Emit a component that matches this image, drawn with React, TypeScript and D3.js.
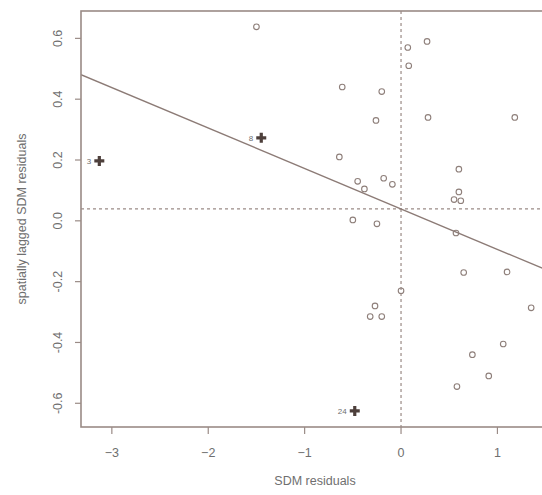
import React, { useEffect, useRef } from 'react';
import * as d3 from 'd3';

// SDM residuals (x) vs spatially lagged SDM residuals (y)
const residX = [-1.50, -0.61, -0.26, -0.64, -0.45, -0.38, -0.50, -0.25, -0.20, -0.18, -0.09,
  0.07, 0.27, 0.08, 0.28, 1.18, 0.60, 0.60, 0.55, 0.62, 0.57, 0.65, 1.10, 0.00, -0.27, -0.32,
  -0.20, 1.35, 1.06, 0.74, 0.91, 0.58];
const laggedY = [0.638, 0.44, 0.33, 0.21, 0.13, 0.105, 0.003, -0.01, 0.425, 0.14, 0.12,
  0.57, 0.59, 0.51, 0.34, 0.34, 0.17, 0.095, 0.07, 0.066, -0.04, -0.17, -0.168, -0.23, -0.28, -0.315,
  -0.315, -0.286, -0.405, -0.44, -0.51, -0.545];

// influential observations
const inflLabels = ['3', '8', '24'];
const inflX = [-3.13, -1.45, -0.48];
const inflY = [0.197, 0.273, -0.625];

const xTicks = [-3, -2, -1, 0, 1];
const yTicks = [-0.6, -0.4, -0.2, 0.0, 0.2, 0.4, 0.6];
const xMean = 0.0;
const yMean = 0.039;
const slope = -0.133;

const App = () => {
  const svgRef = useRef<SVGSVGElement>(null);

  useEffect(() => {
    const svg = d3.select(svgRef.current);
    svg.selectAll('*').remove();

    const left = 81, right = 549, top = 11, bottom = 427;
    const axisCol = '#9a8b86';
    const ptCol = '#8e7f7a';
    const txtCol = '#6f6f6f';
    const font = '"Liberation Sans", Arial, sans-serif';

    const x = d3.scaleLinear().domain([-3.32, 1.535]).range([left, right]);
    const y = d3.scaleLinear().domain([-0.678, 0.69]).range([bottom, top]);

    const clip = svg.append('defs').append('clipPath').attr('id', 'plotclip');
    clip.append('rect').attr('x', left).attr('y', top).attr('width', right - left).attr('height', bottom - top);

    const plot = svg.append('g').attr('clip-path', 'url(#plotclip)');

    // mean lines
    plot.append('line')
      .attr('x1', left).attr('x2', right).attr('y1', y(yMean)).attr('y2', y(yMean))
      .attr('stroke', axisCol).attr('stroke-width', 1.2).attr('stroke-dasharray', '3,3');
    plot.append('line')
      .attr('x1', x(xMean)).attr('x2', x(xMean)).attr('y1', top).attr('y2', bottom)
      .attr('stroke', axisCol).attr('stroke-width', 1.2).attr('stroke-dasharray', '3,3');

    // regression line
    const [x0, x1] = x.domain();
    plot.append('line')
      .attr('x1', x(x0)).attr('y1', y(yMean + slope * (x0 - xMean)))
      .attr('x2', x(x1)).attr('y2', y(yMean + slope * (x1 - xMean)))
      .attr('stroke', '#8c7b76').attr('stroke-width', 1.4);

    // points
    plot.selectAll('.pt')
      .data(residX)
      .enter().append('circle')
      .attr('class', 'pt')
      .attr('cx', d => x(d))
      .attr('cy', (d, i) => y(laggedY[i]))
      .attr('r', 2.8)
      .attr('fill', 'none')
      .attr('stroke', ptCol)
      .attr('stroke-width', 1.1);

    // influential points: filled plus with label
    const infl = plot.selectAll('.infl')
      .data(inflX)
      .enter().append('g')
      .attr('transform', (d, i) => `translate(${x(d)},${y(inflY[i])})`);
    infl.append('path')
      .attr('d', 'M-5,0H5M0,-5V5')
      .attr('stroke', '#4d3f3b')
      .attr('stroke-width', 3.2);
    infl.append('text')
      .attr('x', -8).attr('y', 3)
      .attr('text-anchor', 'end')
      .style('font-family', font).style('font-size', '8px')
      .style('fill', txtCol)
      .text((d, i) => inflLabels[i]);

    // box (right edge falls outside the window)
    svg.append('rect')
      .attr('x', left).attr('y', top).attr('width', right - left).attr('height', bottom - top)
      .attr('fill', 'none').attr('stroke', axisCol).attr('stroke-width', 1.6);

    // x axis
    const xa = svg.append('g');
    xTicks.forEach(t => {
      xa.append('line').attr('x1', x(t)).attr('x2', x(t)).attr('y1', bottom).attr('y2', bottom + 7)
        .attr('stroke', axisCol).attr('stroke-width', 1.2);
      xa.append('text').attr('x', x(t)).attr('y', bottom + 30)
        .attr('text-anchor', 'middle')
        .style('font-family', font).style('font-size', '12.5px').style('fill', txtCol)
        .text(d3.format('d')(t));
    });

    // y axis
    const ya = svg.append('g');
    yTicks.forEach(t => {
      ya.append('line').attr('x1', left - 6).attr('x2', left).attr('y1', y(t)).attr('y2', y(t))
        .attr('stroke', axisCol).attr('stroke-width', 1.2);
      ya.append('text')
        .attr('transform', `translate(${left - 19},${y(t)}) rotate(-90)`)
        .attr('text-anchor', 'middle')
        .style('font-family', font).style('font-size', '12.5px').style('fill', txtCol)
        .text(d3.format('.1f')(t).replace('−', '-'));
    });

    // titles
    svg.append('text')
      .attr('x', (left + right) / 2).attr('y', 485)
      .attr('text-anchor', 'middle')
      .style('font-family', font).style('font-size', '12.5px').style('fill', txtCol)
      .text('SDM residuals');
    svg.append('text')
      .attr('transform', `translate(26,${(top + bottom) / 2}) rotate(-90)`)
      .attr('text-anchor', 'middle')
      .style('font-family', font).style('font-size', '12.5px').style('fill', txtCol)
      .text('spatially lagged SDM residuals');
  }, []);

  return (
    <div>
      <style>{'body{margin:0;background:#fff}'}</style>
      <svg ref={svgRef} width={542} height={495} style={{ display: 'block' }} />
    </div>
  );
};

export default App;
